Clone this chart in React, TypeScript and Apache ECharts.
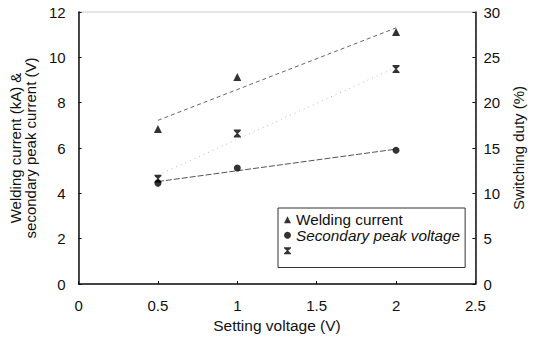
import React, { useEffect, useRef } from "react";
import * as echarts from "echarts";

const settingVoltage = [0.5, 1, 2];
const weldingCurrent = [6.84, 9.13, 11.12];
const secondaryPeak = [4.45, 5.12, 5.9];
const switchingDuty = [11.6, 16.6, 23.7];

const trendX = [0.5, 2];
const weldingTrend = [7.22, 11.3];
const secondaryTrend = [4.52, 5.95];
const dutyTrend = [12.0, 23.9];

const xTicks = ["0", "0.5", "1", "1.5", "2", "2.5"];

const FONT = "'Liberation Sans', Arial, sans-serif";
const HOURGLASS = "path://M0,0 L10,0 L10,1.5 L6,5 L10,8.5 L10,10 L0,10 L0,8.5 L4,5 L0,1.5 Z";

function pairs(xs: number[], ys: number[]) {
  return xs.map((x, i) => [x, ys[i]]);
}

export default function App() {
  const ref = useRef<HTMLDivElement>(null);
  useEffect(() => {
    if (!ref.current) return;
    const chart = echarts.init(ref.current, null, { renderer: "svg" });
    chart.setOption({
      animation: false,
      backgroundColor: "#fff",
      textStyle: { fontFamily: FONT },
      grid: {
        left: 71,
        right: 50,
        top: 12,
        bottom: 58,
        show: true,
        borderColor: "#999",
        borderWidth: 1,
        borderType: "dotted",
      },
      legend: {
        orient: "vertical",
        left: 278,
        top: 208,
        padding: [4, 5, 9, 6],
        itemGap: 0,
        itemWidth: 7,
        itemHeight: 7,
        borderColor: "#333",
        borderWidth: 1,
        textStyle: { fontSize: 15.3, color: "#111", fontFamily: FONT, lineHeight: 15.5 },
        data: [
          { name: "Welding current", icon: "triangle" },
          { name: "Secondary peak voltage", icon: "circle", textStyle: { fontStyle: "italic" } },
          { name: " ", icon: HOURGLASS },
        ],
      },
      xAxis: {
        type: "value",
        min: 0,
        max: 2.5,
        interval: 0.5,
        name: "Setting voltage (V)",
        nameLocation: "middle",
        nameGap: 30,
        nameTextStyle: { fontSize: 15.5, color: "#111" },
        axisLine: { lineStyle: { color: "#111", width: 1.5 } },
        axisTick: { inside: true, length: 3, lineStyle: { color: "#111" } },
        splitLine: { show: false },
        axisLabel: {
          fontSize: 15,
          color: "#111",
          margin: 14,
          formatter: (v: number) => xTicks[Math.round(v / 0.5)] ?? String(v),
        },
      },
      yAxis: [
        {
          type: "value",
          min: 0,
          max: 12,
          interval: 2,
          position: "left",
          name: "Welding current (kA) &\nsecondary peak current (V)",
          nameLocation: "middle",
          nameRotate: 90,
          nameGap: 19,
          nameTextStyle: { fontSize: 15, color: "#111", lineHeight: 15 },
          axisLine: { show: true, lineStyle: { color: "#111", width: 1.5 } },
          axisTick: { show: true, inside: true, length: 3, lineStyle: { color: "#111" } },
          splitLine: { show: false },
          axisLabel: { fontSize: 15, color: "#111", margin: 13 },
        },
        {
          type: "value",
          min: 0,
          max: 30,
          interval: 5,
          position: "right",
          name: "Switching duty (%)",
          nameLocation: "middle",
          nameRotate: 90,
          nameGap: 33,
          nameTextStyle: { fontSize: 15, color: "#111" },
          axisLine: { show: true, lineStyle: { color: "#111", width: 1.5 } },
          axisTick: { show: true, inside: true, length: 3, lineStyle: { color: "#111" } },
          splitLine: { show: false },
          axisLabel: { fontSize: 15, color: "#111", margin: 8 },
        },
      ],
      series: [
        {
          name: "Welding current trend",
          type: "line",
          data: pairs(trendX, weldingTrend),
          symbol: "none",
          lineStyle: { color: "#666", width: 1, type: [4, 3] },
          silent: true,
          z: 1,
        },
        {
          name: "Secondary trend",
          type: "line",
          data: pairs(trendX, secondaryTrend),
          symbol: "none",
          lineStyle: { color: "#555", width: 1, type: [6, 2] },
          silent: true,
          z: 1,
        },
        {
          name: "Duty trend",
          type: "line",
          yAxisIndex: 1,
          data: pairs(trendX, dutyTrend),
          symbol: "none",
          lineStyle: { color: "#bbb", width: 1, type: [1, 4] },
          silent: true,
          z: 1,
        },
        {
          name: "Welding current",
          type: "scatter",
          data: pairs(settingVoltage, weldingCurrent),
          symbol: "triangle",
          symbolSize: 8,
          itemStyle: { color: "#000" },
          z: 3,
        },
        {
          name: "Secondary peak voltage",
          type: "scatter",
          data: pairs(settingVoltage, secondaryPeak),
          symbol: "circle",
          symbolSize: 7,
          itemStyle: { color: "#000" },
          z: 3,
        },
        {
          name: " ",
          type: "scatter",
          yAxisIndex: 1,
          data: pairs(settingVoltage, switchingDuty),
          symbol: HOURGLASS,
          symbolSize: [7, 8],
          itemStyle: { color: "#000" },
          z: 3,
        },
      ],
    });
    return () => chart.dispose();
  }, []);
  return <div ref={ref} style={{ width: 534, height: 342, position: "absolute", left: 0, top: 0 }} />;
}
